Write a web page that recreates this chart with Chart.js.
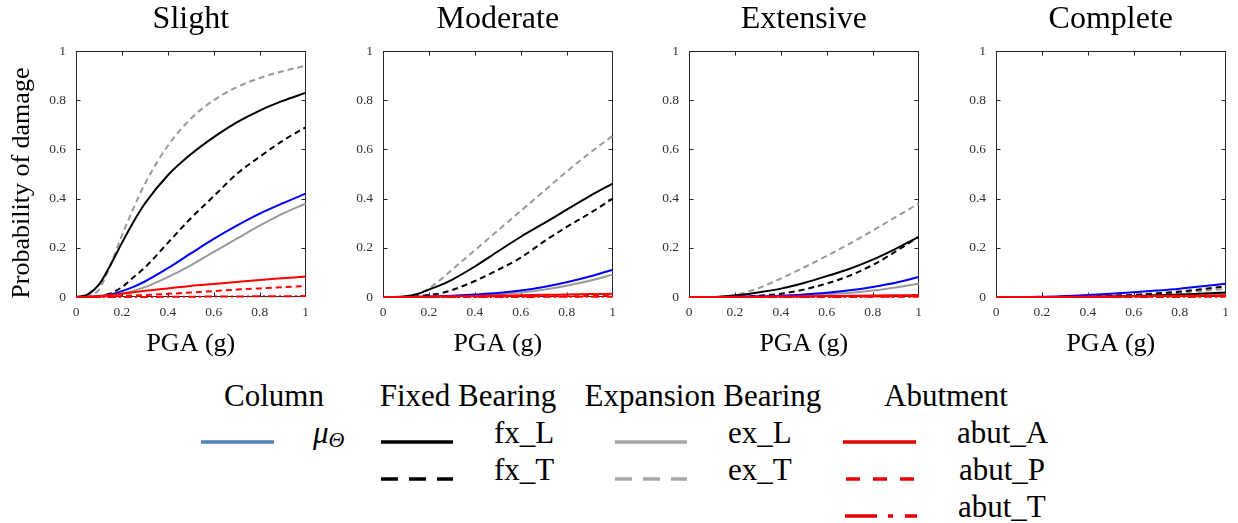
<!DOCTYPE html>
<html>
<head>
<meta charset="utf-8">
<script src="https://cdn.jsdelivr.net/npm/chart.js@4.4.0/dist/chart.umd.min.js"></script>
<style>
  body { margin: 0; background: #fff; width: 1238px; height: 523px; overflow: hidden; position: relative; }
  canvas.panel { position: absolute; top: 0; }
  #legend { position: absolute; left: 0; top: 370px; font-family: "Liberation Serif", "Times New Roman", serif; }
</style>
</head>
<body>
<canvas id="c0" class="panel" width="316" height="370" style="left:0px"></canvas>
<canvas id="c1" class="panel" width="316" height="370" style="left:307px"></canvas>
<canvas id="c2" class="panel" width="316" height="370" style="left:613px"></canvas>
<canvas id="c3" class="panel" width="316" height="370" style="left:920px"></canvas>

<svg id="legend" width="1238" height="153">
  <g font-size="31" fill="#000" text-anchor="middle">
    <text x="274" y="36">Column</text>
    <text x="468" y="36">Fixed Bearing</text>
    <text x="703" y="36">Expansion Bearing</text>
    <text x="946" y="36">Abutment</text>
  </g>
  <g stroke-width="3.5" fill="none">
    <line x1="201" y1="72" x2="274" y2="72" stroke="#4f81bd"/>
    <line x1="381" y1="72" x2="453" y2="72" stroke="#000"/>
    <line x1="381" y1="109" x2="453" y2="109" stroke="#000" stroke-dasharray="17 11"/>
    <line x1="615" y1="72" x2="687" y2="72" stroke="#a6a6a6"/>
    <line x1="615" y1="109" x2="687" y2="109" stroke="#a6a6a6" stroke-dasharray="17 11"/>
    <line x1="843" y1="72" x2="916" y2="72" stroke="#e60000"/>
    <line x1="846" y1="109" x2="917" y2="109" stroke="#e60000" stroke-dasharray="14 13"/>
    <line x1="845" y1="146" x2="917" y2="146" stroke="#e60000" stroke-dasharray="32 11 5 12"/>
  </g>
  <g font-size="31" fill="#000">
    <text x="313" y="73" font-style="italic">μ<tspan font-size="22" dy="4">Θ</tspan></text>
    <text x="494" y="73">fx_L</text>
    <text x="494" y="110">fx_T</text>
    <text x="728" y="73">ex_L</text>
    <text x="728" y="110">ex_T</text>
    <text x="957" y="73">abut_A</text>
    <text x="959" y="110">abut_P</text>
    <text x="958" y="147">abut_T</text>
  </g>
</svg>

<script>
// PGA values (g) where the curves were read
const pga = [0, 0.05, 0.1, 0.15, 0.2, 0.25, 0.3, 0.4, 0.5, 0.6, 0.7, 0.8, 0.9, 1.0];
const tickValues = [0, 0.2, 0.4, 0.6, 0.8, 1];
const damageStates = ['Slight', 'Moderate', 'Extensive', 'Complete'];

// Slight
const slightMu  = [0, 0, 0.003, 0.01, 0.024, 0.041, 0.063, 0.117, 0.177, 0.236, 0.29, 0.339, 0.381, 0.42];
const slightFxL = [0, 0.01, 0.05, 0.13, 0.22, 0.305, 0.38, 0.495, 0.58, 0.65, 0.71, 0.758, 0.797, 0.83];
const slightFxT = [0, 0, 0.003, 0.015, 0.04, 0.08, 0.12, 0.22, 0.32, 0.41, 0.50, 0.57, 0.635, 0.69];
const slightExL = [0, 0, 0.002, 0.006, 0.014, 0.025, 0.04, 0.081, 0.129, 0.183, 0.237, 0.29, 0.339, 0.38];
const slightExT = [0, 0.005, 0.03, 0.13, 0.25, 0.36, 0.46, 0.615, 0.725, 0.80, 0.853, 0.89, 0.918, 0.94];
const slightAbA = [0, 0.001, 0.004, 0.008, 0.013, 0.019, 0.025, 0.035, 0.045, 0.053, 0.061, 0.069, 0.076, 0.083];
const slightAbP = [0, 0, 0.001, 0.002, 0.004, 0.006, 0.008, 0.013, 0.018, 0.024, 0.03, 0.035, 0.04, 0.045];
const slightAbT = [0, 0, 0, 0, 0, 0, 0, 0.001, 0.001, 0.002, 0.002, 0.003, 0.003, 0.004];

// Moderate
const moderateMu  = [0, 0, 0, 0.001, 0.002, 0.003, 0.005, 0.01, 0.016, 0.026, 0.041, 0.06, 0.083, 0.111];
const moderateFxL = [0, 0, 0.003, 0.012, 0.03, 0.048, 0.07, 0.124, 0.185, 0.245, 0.299, 0.355, 0.41, 0.461];
const moderateFxT = [0, 0, 0, 0.003, 0.008, 0.015, 0.028, 0.065, 0.11, 0.16, 0.225, 0.285, 0.34, 0.40];
const moderateExL = [0, 0, 0, 0, 0.001, 0.002, 0.003, 0.006, 0.011, 0.018, 0.03, 0.046, 0.066, 0.091];
const moderateExT = [0, 0, 0.002, 0.012, 0.035, 0.07, 0.11, 0.19, 0.27, 0.35, 0.43, 0.51, 0.585, 0.655];
const moderateAbA = [0, 0, 0, 0.001, 0.001, 0.002, 0.003, 0.004, 0.006, 0.007, 0.009, 0.01, 0.012, 0.013];
const moderateAbP = [0, 0, 0, 0, 0, 0.001, 0.001, 0.001, 0.002, 0.002, 0.003, 0.003, 0.004, 0.005];
const moderateAbT = [0, 0, 0, 0, 0, 0, 0, 0, 0, 0, 0.001, 0.001, 0.001, 0.001];

// Extensive
const extensiveMu  = [0, 0, 0, 0, 0.001, 0.002, 0.003, 0.005, 0.01, 0.017, 0.027, 0.041, 0.058, 0.081];
const extensiveFxL = [0, 0, 0, 0.002, 0.006, 0.011, 0.018, 0.034, 0.057, 0.085, 0.115, 0.152, 0.196, 0.244];
const extensiveFxT = [0, 0, 0, 0, 0.001, 0.002, 0.005, 0.013, 0.03, 0.055, 0.087, 0.13, 0.185, 0.245];
const extensiveExL = [0, 0, 0, 0, 0, 0.001, 0.001, 0.003, 0.006, 0.011, 0.017, 0.026, 0.039, 0.054];
const extensiveExT = [0, 0, 0, 0.003, 0.008, 0.02, 0.035, 0.075, 0.12, 0.167, 0.217, 0.27, 0.325, 0.38];
const extensiveAbA = [0, 0, 0, 0, 0.001, 0.001, 0.001, 0.002, 0.003, 0.004, 0.005, 0.006, 0.007, 0.008];
const extensiveAbP = [0, 0, 0, 0, 0, 0, 0, 0.001, 0.001, 0.001, 0.002, 0.002, 0.002, 0.003];
const extensiveAbT = [0, 0, 0, 0, 0, 0, 0, 0, 0, 0, 0, 0.001, 0.001, 0.001];

// Complete
const completeMu  = [0, 0, 0, 0, 0.001, 0.002, 0.004, 0.008, 0.013, 0.019, 0.026, 0.034, 0.044, 0.054];
const completeFxL = [0, 0, 0, 0, 0, 0, 0, 0.001, 0.002, 0.004, 0.007, 0.01, 0.014, 0.018];
const completeFxT = [0, 0, 0, 0, 0, 0, 0.001, 0.002, 0.005, 0.009, 0.015, 0.022, 0.032, 0.043];
const completeExL = [0, 0, 0, 0, 0, 0, 0, 0.001, 0.002, 0.003, 0.005, 0.008, 0.011, 0.014];
const completeExT = [0, 0, 0, 0, 0, 0, 0, 0.001, 0.003, 0.006, 0.011, 0.017, 0.025, 0.033];
const completeAbA = [0, 0, 0, 0, 0, 0, 0.001, 0.001, 0.002, 0.003, 0.004, 0.005, 0.006, 0.007];
const completeAbP = [0, 0, 0, 0, 0, 0, 0, 0.001, 0.001, 0.002, 0.002, 0.003, 0.003, 0.004];
const completeAbT = [0, 0, 0, 0, 0, 0, 0, 0, 0, 0, 0, 0, 0.001, 0.001];

const panelSeries = [
    [slightAbT, slightAbP, slightAbA, slightMu, slightFxL, slightFxT, slightExL, slightExT],
    [moderateAbT, moderateAbP, moderateAbA, moderateMu, moderateFxL, moderateFxT, moderateExL, moderateExT],
    [extensiveAbT, extensiveAbP, extensiveAbA, extensiveMu, extensiveFxL, extensiveFxT, extensiveExL, extensiveExT],
    [completeAbT, completeAbP, completeAbA, completeMu, completeFxL, completeFxT, completeExL, completeExT]
];

// line styles, same order as panelSeries rows
const seriesStyles = [
    { label: 'abut_T', color: '#ff0000', dash: [8, 3, 2, 3] },
    { label: 'abut_P', color: '#ff0000', dash: [6, 4] },
    { label: 'abut_A', color: '#ff0000', dash: [] },
    { label: 'μΘ',     color: '#0000ff', dash: [] },
    { label: 'fx_L',   color: '#000000', dash: [] },
    { label: 'fx_T',   color: '#000000', dash: [6, 4] },
    { label: 'ex_L',   color: '#999999', dash: [] },
    { label: 'ex_T',   color: '#999999', dash: [6, 4] }
];

const SERIF = '"Liberation Serif", "Times New Roman", serif';
Chart.defaults.font.family = SERIF;

// MATLAB-like box with inward ticks on all four sides
const boxTicks = {
    id: 'boxTicks',
    beforeDatasetsDraw(chart) {
        const { ctx, chartArea: a, scales: { x, y } } = chart;
        const L = Math.round(a.left) + 0.5, R = Math.round(a.right) - 0.5;
        const T = Math.round(a.top) + 0.5, B = Math.round(a.bottom) - 0.5;
        ctx.save();
        ctx.strokeStyle = '#262626';
        ctx.lineWidth = 1;
        ctx.strokeRect(L, T, R - L, B - T);
        ctx.beginPath();
        tickValues.slice(1, -1).forEach(v => {
            const px = Math.round(x.getPixelForValue(v)) + 0.5;
            ctx.moveTo(px, B); ctx.lineTo(px, B - 4);
            ctx.moveTo(px, T); ctx.lineTo(px, T + 4);
            const py = Math.round(y.getPixelForValue(v)) + 0.5;
            ctx.moveTo(L, py); ctx.lineTo(L + 4, py);
            ctx.moveTo(R, py); ctx.lineTo(R - 4, py);
        });
        ctx.stroke();
        ctx.restore();
    }
};

const tickLabel = v => String(Number(v.toFixed(1)));

function makePanel(idx) {
    const datasets = panelSeries[idx].map((values, i) => ({
        label: seriesStyles[i].label,
        data: pga.map((x, k) => ({ x: x, y: values[k] })),
        borderColor: seriesStyles[i].color,
        borderDash: seriesStyles[i].dash,
        borderWidth: 2,
        pointRadius: 0,
        fill: false,
        cubicInterpolationMode: 'monotone',
        clip: false
    }));

    return new Chart(document.getElementById('c' + idx), {
        type: 'line',
        data: { datasets },
        plugins: [boxTicks],
        options: {
            responsive: false,
            animation: false,
            devicePixelRatio: 1,
            layout: { padding: { left: 0, right: 8, top: 0, bottom: 0 } },
            plugins: {
                legend: { display: false },
                tooltip: { enabled: false },
                title: {
                    display: true,
                    text: damageStates[idx],
                    fullSize: false,
                    color: '#000',
                    font: { family: SERIF, size: 32, weight: 'normal' },
                    padding: { top: 0, bottom: 12.6 }
                }
            },
            scales: {
                x: {
                    type: 'linear',
                    min: 0, max: 1,
                    afterBuildTicks: s => { s.ticks = tickValues.map(v => ({ value: v })); },
                    afterFit: s => { s.height = 73; },
                    grid: { display: false, drawTicks: false },
                    border: { display: false },
                    ticks: { color: '#333', font: { family: SERIF, size: 13.5 }, padding: 7, maxRotation: 0, autoSkip: false, callback: tickLabel },
                    title: {
                        display: true,
                        text: 'PGA (g)',
                        color: '#000',
                        font: { family: SERIF, size: 26 },
                        padding: { top: 0, bottom: 10.4 }
                    }
                },
                y: {
                    type: 'linear',
                    min: 0, max: 1,
                    afterBuildTicks: s => { s.ticks = tickValues.map(v => ({ value: v })); },
                    afterFit: s => { s.width = 76; },
                    grid: { display: false, drawTicks: false },
                    border: { display: false },
                    ticks: { color: '#333', font: { family: SERIF, size: 13.5 }, padding: 10, callback: tickLabel },
                    title: {
                        display: idx === 0,
                        text: 'Probability of damage\u00a0\u00a0\u2009',
                        color: '#000',
                        font: { family: SERIF, size: 26 },
                        padding: { top: 6.6, bottom: 0 }
                    }
                }
            }
        }
    });
}

damageStates.forEach((s, i) => makePanel(i));
</script>
</body>
</html>
